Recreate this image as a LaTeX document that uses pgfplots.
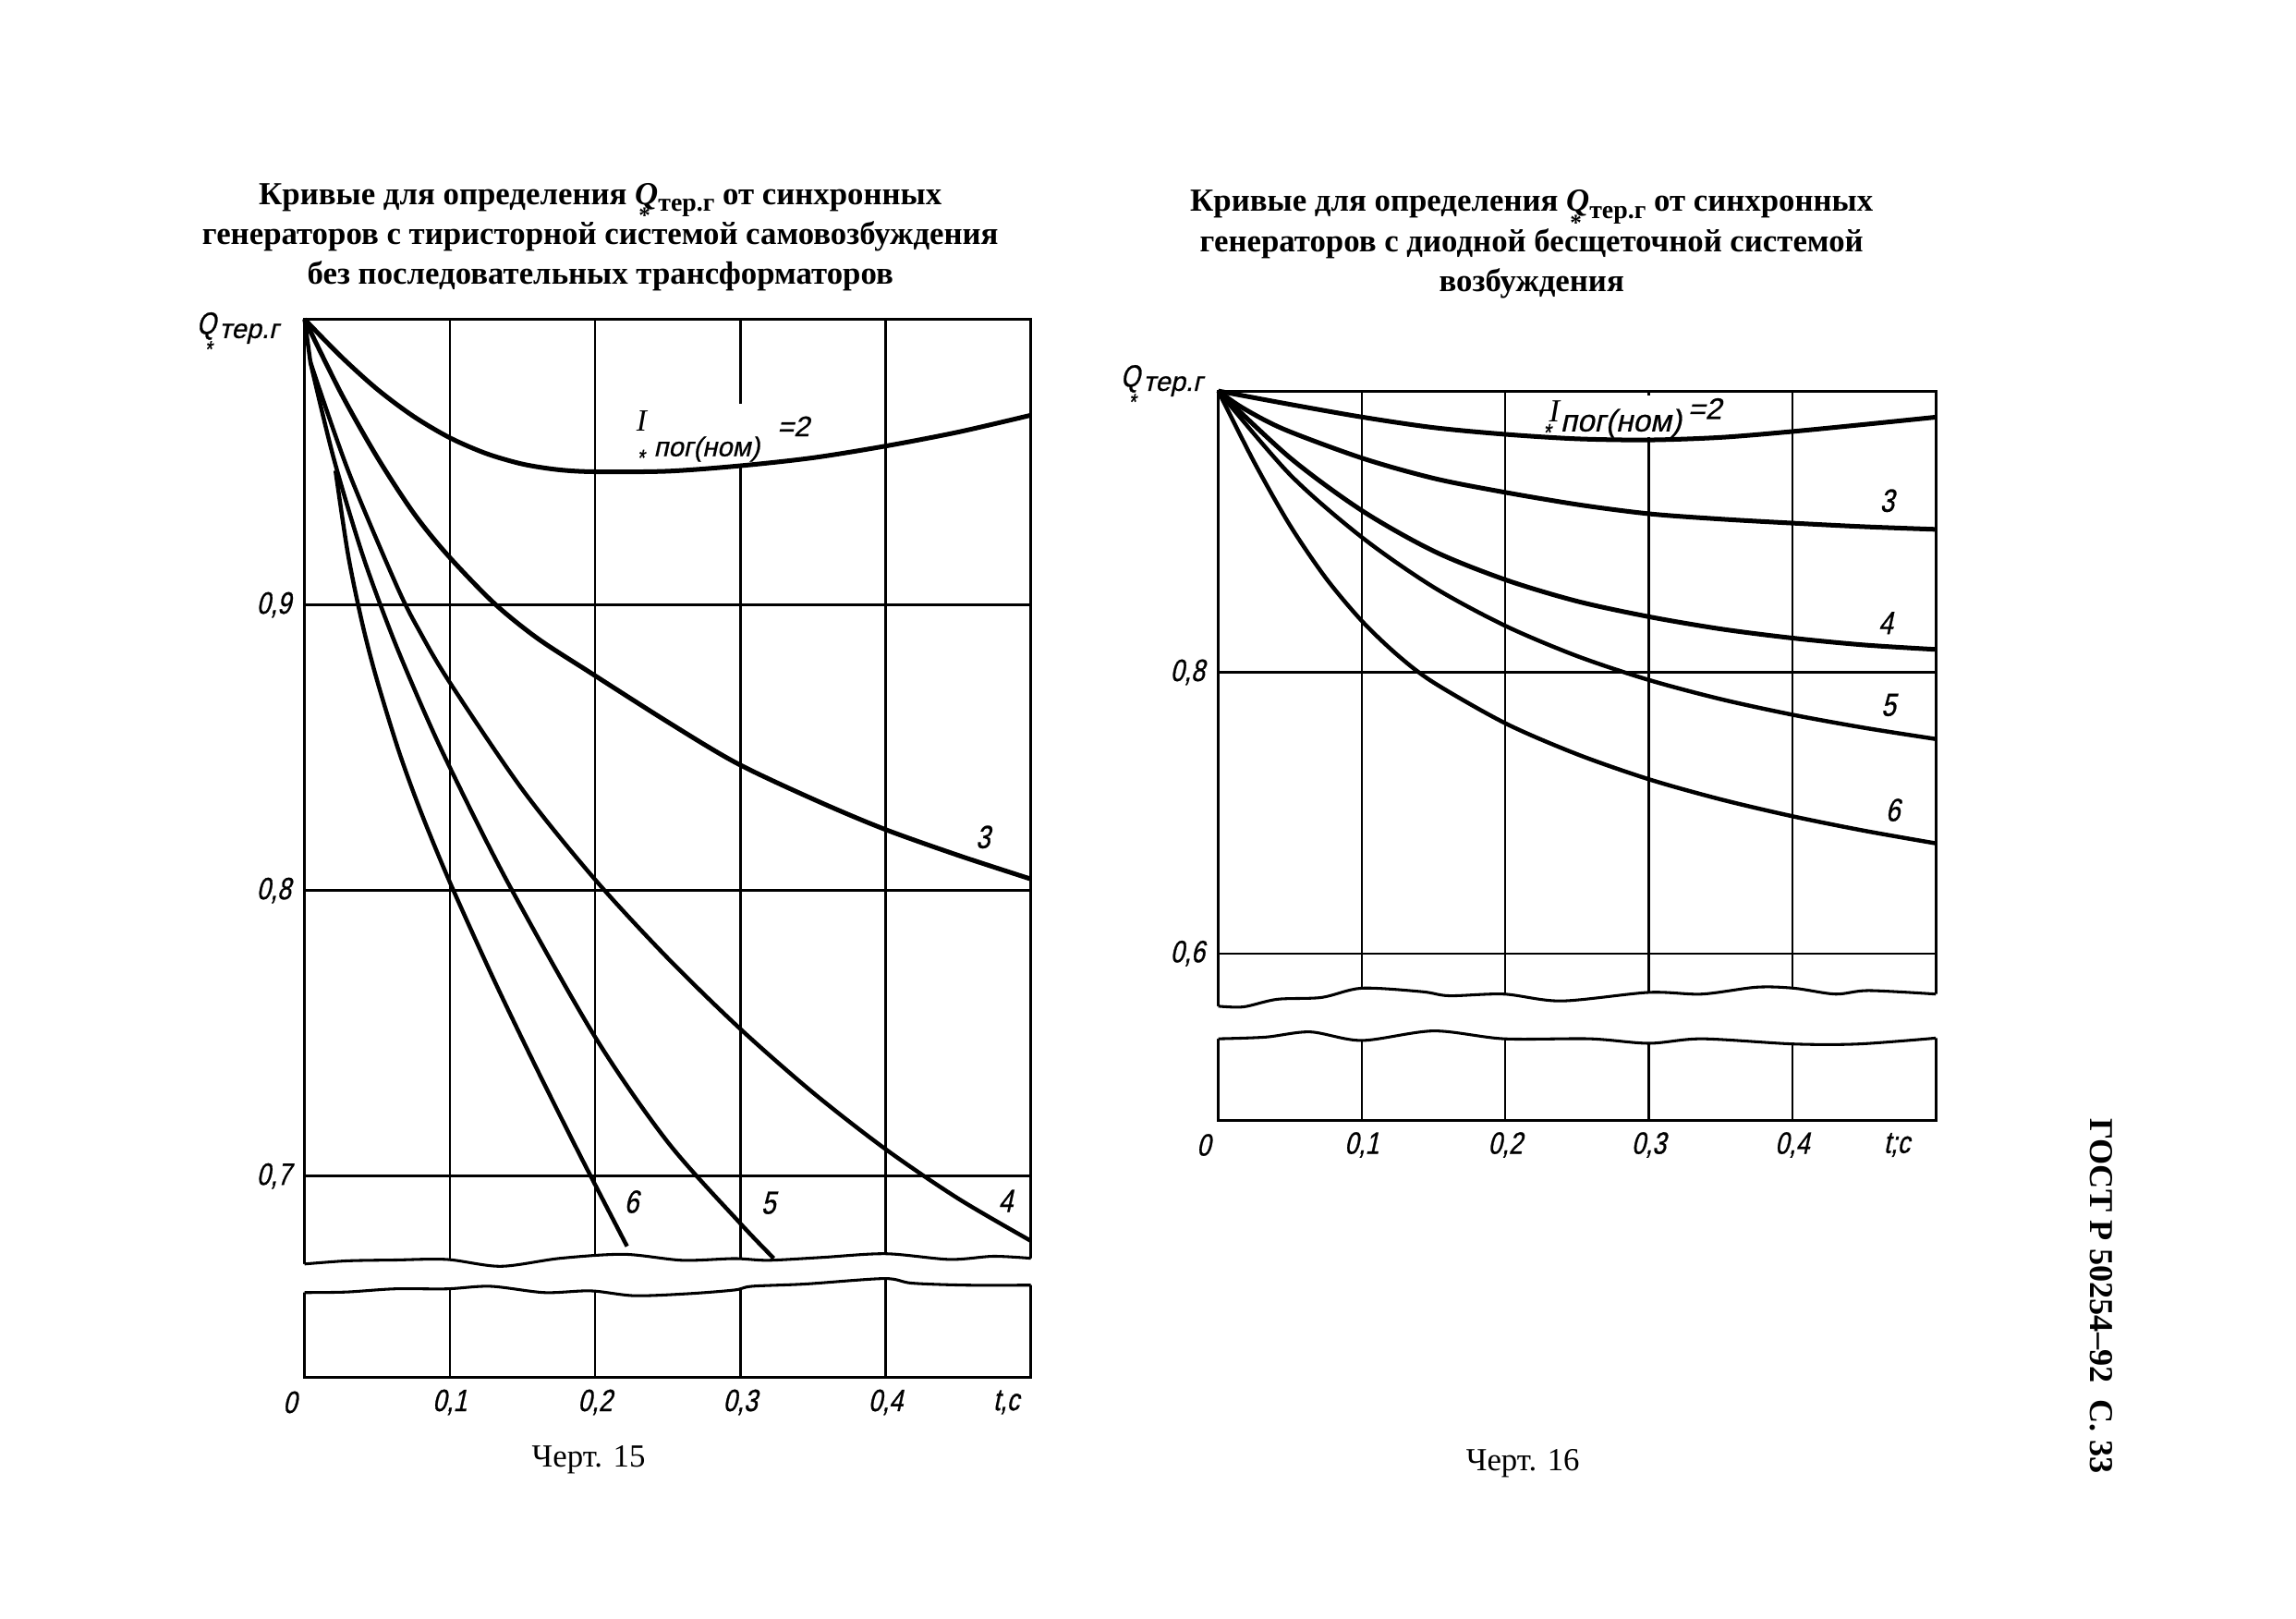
\documentclass[border=0pt]{standalone}
\usepackage{fontspec}
\setmainfont{Liberation Serif}
\newfontfamily\hand[FakeSlant=0.22,FakeStretch=0.8,FakeBold=0.8]{Liberation Sans}
\newfontfamily\handw[FakeSlant=0.22,FakeBold=0.6]{Liberation Sans}
\usepackage{pgfplots}
\pgfplotsset{compat=1.18}
% Q with asterisk below, subscript тер.г (title, bold serif)
\newcommand\Qt{\textit{Q}\kern-0.42em\makebox[0pt][c]{\raisebox{-7.2pt}[0pt][0pt]{\fontsize{9}{9}\selectfont *}}\kern0.42em\raisebox{-0.45ex}{\fontsize{10}{10}\selectfont тер.г}}
% Q with asterisk below (handwritten axis label)
\newcommand\Qh{{\hand\fontsize{12}{12}\selectfont Q}\kern-0.32em\makebox[0pt][c]{\raisebox{-9pt}[0pt][0pt]{\hand\fontsize{9}{9}\selectfont *}}\kern0.45em\raisebox{-0.35ex}{\handw\fontsize{10.5}{10.5}\selectfont тер.г}}
\tikzset{lab/.style={font=\hand\fontsize{12.5}{12.5}\selectfont}}
\pgfplotsset{
 gostaxis/.style={
  scale only axis, xmin=0, xmax=0.5, clip=false,
  axis line style={line width=1.1pt},
  grid=major, major grid style={line width=0.9pt, black},
  tick style={draw=none}, major tick length=0pt,
  xtick={0,0.1,0.2,0.3,0.4},
  xticklabels={\makebox[0pt][c]{\hspace*{-0.4cm}0},{0,1},{0,2},{0,3},{0,4}},
  ticklabel style={font=\hand\fontsize{12}{12}\selectfont},
  xticklabel style={anchor=center, yshift=-0.34cm},
  yticklabel style={anchor=center, xshift=-0.42cm},
 },
 crv/.style={line width=1.6pt, smooth, black},
 wav/.style={line width=1.1pt, smooth, black},
}
\begin{document}
\begin{tikzpicture}
\useasboundingbox (0,0) rectangle (31.36cm,22.1cm);
% ---------------- left chart (Черт. 15)
\begin{axis}[gostaxis, at={(4.16cm,3.29cm)}, anchor=south west,
  width=9.92cm, height=14.45cm, ymin=0.6295, ymax=1,
  ytick={0.7,0.8,0.9}, yticklabels={{0,7},{0,8},{0,9}}]
\addplot[white, line width=1.4pt] coordinates {(0.3,0.9705) (0.3,0.9495)};
% I = 2
\addplot[crv, line width=1.8pt] coordinates {(0,1) (0.025,0.987) (0.05,0.9755) (0.075,0.966) (0.1,0.9585) (0.125,0.953) (0.15,0.9493) (0.175,0.9473) (0.2,0.9466) (0.25,0.9468) (0.3,0.9487) (0.35,0.9515) (0.4,0.9556) (0.45,0.9605) (0.5,0.9664)};
% I = 3
\addplot[crv, line width=1.8pt] coordinates {(0,1) (0.025,0.9742) (0.05,0.9517) (0.075,0.9322) (0.098,0.9177) (0.13,0.9008) (0.16,0.8884) (0.196,0.8765) (0.25,0.859) (0.297,0.8447) (0.35,0.832) (0.398,0.8217) (0.45,0.8123) (0.5,0.804)};
% I = 4
\addplot[line width=1.6pt] coordinates {(0,1) (0.004,0.985)};
\addplot[crv] coordinates {(0.004,0.985) (0.03,0.947) (0.064,0.906) (0.08,0.89) (0.1,0.8728) (0.15,0.8353) (0.2,0.8038) (0.25,0.7763) (0.3,0.7515) (0.35,0.7292) (0.4,0.7094) (0.45,0.6921) (0.5,0.6773)};
% I = 5
\addplot[crv] coordinates {(0.004,0.985) (0.02,0.9514) (0.04,0.9174) (0.06,0.8896) (0.08,0.8653) (0.1,0.8431) (0.14,0.8027) (0.2,0.7487) (0.25,0.7119) (0.3,0.6834) (0.323,0.6712)};
% I = 6
\addplot[crv] coordinates {(0.0213,0.947) (0.03,0.9174) (0.04,0.8929) (0.05,0.8734) (0.065,0.8486) (0.08,0.8276) (0.1,0.8029) (0.13,0.7691) (0.16,0.7374) (0.19,0.7069) (0.222,0.6754)};
% break
\addplot[fill=white, draw=none] coordinates {(-0.006,0.6692) (0,0.6692) (0.029,0.6703) (0.062,0.6706) (0.098,0.6708) (0.135,0.6684) (0.176,0.6712) (0.22,0.6726) (0.26,0.6705) (0.296,0.6711) (0.319,0.6705) (0.356,0.6715) (0.4,0.6728) (0.444,0.6708) (0.474,0.6719) (0.5,0.6712) (0.506,0.6712)
 (0.506,0.6618) (0.5,0.6618) (0.455,0.6618) (0.418,0.6625) (0.399,0.6641) (0.345,0.6622) (0.308,0.6614) (0.296,0.6601) (0.264,0.6588) (0.227,0.6581) (0.197,0.6598) (0.165,0.6592) (0.128,0.6614) (0.098,0.6605) (0.062,0.6605) (0.029,0.6594) (0,0.6592) (-0.006,0.6592)};
\addplot[wav] coordinates {(0,0.6692) (0.029,0.6703) (0.062,0.6706) (0.098,0.6708) (0.135,0.6684) (0.176,0.6712) (0.22,0.6726) (0.26,0.6705) (0.296,0.6711) (0.319,0.6705) (0.356,0.6715) (0.4,0.6728) (0.444,0.6708) (0.474,0.6719) (0.5,0.6712)};
\addplot[wav] coordinates {(0,0.6592) (0.029,0.6594) (0.062,0.6605) (0.098,0.6605) (0.128,0.6614) (0.165,0.6592) (0.197,0.6598) (0.227,0.6581) (0.264,0.6588) (0.296,0.6601) (0.308,0.6614) (0.345,0.6622) (0.399,0.6641) (0.418,0.6625) (0.455,0.6618) (0.5,0.6618)};
% labels
\node[font=\itshape\fontsize{12}{12}\selectfont] at (axis cs:0.232,0.9645) {I};
\node[font=\hand\fontsize{9}{9}\selectfont] at (axis cs:0.231,0.9515) {*};
\node[font=\handw\fontsize{10.5}{10.5}\selectfont, anchor=west, inner sep=0pt] at (axis cs:0.240,0.9545) {пог(ном)};
\node[font=\handw\fontsize{11}{11}\selectfont] at (axis cs:0.3365,0.9625) {=2};
\node[lab] at (axis cs:0.467,0.8187) {3};
\node[lab] at (axis cs:0.4826,0.6913) {4};
\node[lab] at (axis cs:0.3193,0.6906) {5};
\node[lab] at (axis cs:0.225,0.691) {6};
\node[font=\hand\fontsize{12}{12}\selectfont, yshift=-0.34cm] at (axis cs:0.483,0.6295) {t,c};
\end{axis}
% ---------------- right chart (Черт. 16)
\begin{axis}[gostaxis, at={(16.64cm,6.804cm)}, anchor=south west,
  width=9.8cm, height=9.956cm, ymin=0.4815, ymax=1,
  ytick={0.6,0.8}, yticklabels={{0,6},{0,8}}]
\addplot[white, line width=1.4pt] coordinates {(0.3,0.9965) (0.3,0.967)};
\addplot[crv, line width=1.8pt] coordinates {(0,1) (0.05,0.9905) (0.1,0.9815) (0.15,0.974) (0.2,0.9692) (0.25,0.966) (0.3,0.9652) (0.35,0.967) (0.4,0.9712) (0.45,0.9762) (0.5,0.9814)};
\addplot[crv, line width=1.8pt] coordinates {(0,1) (0.017,0.988) (0.046,0.9727) (0.101,0.952) (0.151,0.9377) (0.2,0.9279) (0.252,0.919) (0.301,0.9126) (0.352,0.9088) (0.401,0.906) (0.45,0.9035) (0.5,0.9016)};
\addplot[crv, line width=1.8pt] coordinates {(0,1) (0.05,0.9525) (0.1,0.915) (0.15,0.8862) (0.2,0.8658) (0.25,0.8505) (0.3,0.8395) (0.35,0.8308) (0.4,0.8243) (0.45,0.8194) (0.5,0.8162)};
\addplot[crv] coordinates {(0,1) (0.05,0.9405) (0.1,0.896) (0.15,0.8605) (0.2,0.833) (0.25,0.8115) (0.3,0.7945) (0.35,0.7809) (0.4,0.7698) (0.45,0.7605) (0.5,0.7525)};
\addplot[crv] coordinates {(0,1) (0.025,0.9494) (0.05,0.9044) (0.075,0.8669) (0.1,0.8365) (0.125,0.8121) (0.15,0.7927) (0.2,0.7637) (0.25,0.7417) (0.3,0.7239) (0.35,0.7096) (0.4,0.6976) (0.45,0.6873) (0.5,0.6783)};
% break
\addplot[fill=white, draw=none] coordinates {(-0.006,0.5625) (0,0.5625) (0.0175,0.562) (0.041,0.5674) (0.072,0.5687) (0.1,0.5753) (0.142,0.5728) (0.161,0.5699) (0.199,0.5711) (0.239,0.5662) (0.3,0.5723) (0.337,0.5711) (0.375,0.576) (0.401,0.5753) (0.43,0.5711) (0.453,0.5736) (0.5,0.5711) (0.506,0.5711)
 (0.506,0.5398) (0.5,0.5398) (0.446,0.5356) (0.401,0.5356) (0.337,0.5393) (0.3,0.5361) (0.259,0.5393) (0.199,0.5393) (0.15,0.5449) (0.1,0.5381) (0.064,0.5442) (0.033,0.5405) (0,0.5393) (-0.006,0.5393)};
\addplot[wav] coordinates {(0,0.5625) (0.0175,0.562) (0.041,0.5674) (0.072,0.5687) (0.1,0.5753) (0.142,0.5728) (0.161,0.5699) (0.199,0.5711) (0.239,0.5662) (0.3,0.5723) (0.337,0.5711) (0.375,0.576) (0.401,0.5753) (0.43,0.5711) (0.453,0.5736) (0.5,0.5711)};
\addplot[wav] coordinates {(0,0.5393) (0.033,0.5405) (0.064,0.5442) (0.1,0.5381) (0.15,0.5449) (0.199,0.5393) (0.259,0.5393) (0.3,0.5361) (0.337,0.5393) (0.401,0.5356) (0.446,0.5356) (0.5,0.5398)};
% labels
\node[font=\itshape\fontsize{12.5}{12.5}\selectfont] at (axis cs:0.2343,0.9854) {I};
\node[font=\hand\fontsize{9.5}{9.5}\selectfont] at (axis cs:0.2285,0.9705) {*};
\node[font=\handw\fontsize{12}{12}\selectfont, anchor=west, inner sep=0pt] at (axis cs:0.238,0.977) {пог(ном)};
\node[font=\handw\fontsize{11.5}{11.5}\selectfont] at (axis cs:0.339,0.9875) {=2};
\node[lab] at (axis cs:0.466,0.922) {3};
\node[lab] at (axis cs:0.465,0.835) {4};
\node[lab] at (axis cs:0.467,0.7767) {5};
\node[lab] at (axis cs:0.47,0.702) {6};
\node[font=\hand\fontsize{12}{12}\selectfont, yshift=-0.34cm] at (axis cs:0.4728,0.4815) {t;c};
\end{axis}
% ---------------- texts
\node[anchor=west, inner sep=0pt] at (2.68cm,17.62cm) {\Qh};
\node[anchor=west, inner sep=0pt] at (15.3cm,16.9cm) {\Qh};
\node[align=center, font=\bfseries\fontsize{12.5}{15.6}\selectfont] at (8.2cm,18.86cm)
 {Кривые для определения \Qt{} от синхронных\\генераторов с тиристорной системой самовозбуждения\\без последовательных трансформаторов};
\node[align=center, font=\bfseries\fontsize{12.5}{15.6}\selectfont] at (20.92cm,18.76cm)
 {Кривые для определения \Qt{} от синхронных\\генераторов с диодной бесщеточной системой\\возбуждения};
\node[font=\fontsize{12.5}{14}\selectfont] at (8.04cm,2.16cm) {Черт. 15};
\node[font=\fontsize{12.5}{14}\selectfont] at (20.8cm,2.12cm) {Черт. 16};
\node[rotate=-90, font=\bfseries\fontsize{13}{14}\selectfont] at (28.7cm,4.4cm) {ГОСТ Р 50254–92\ \ С. 33};
\end{tikzpicture}
\end{document}
